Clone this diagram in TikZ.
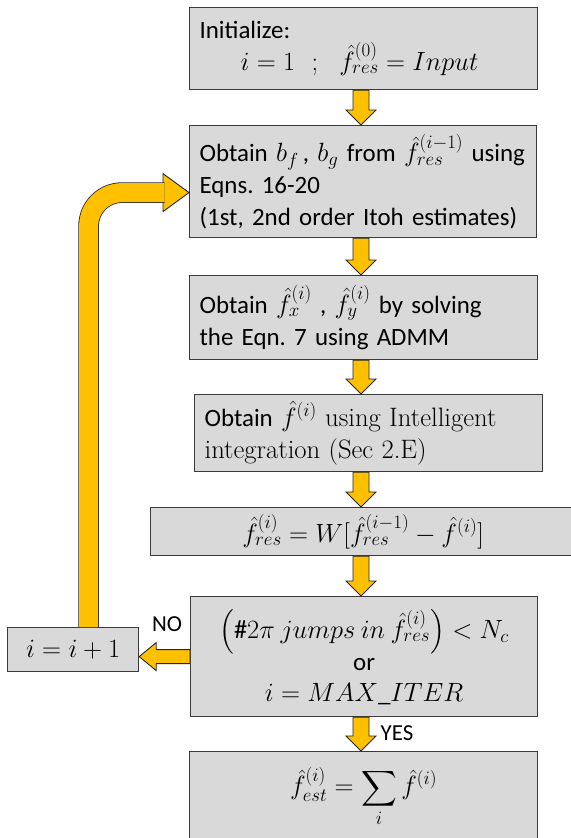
\RequirePackage{fix-cm}
\documentclass[tikz,border=0pt]{standalone}
\usepackage{amsmath}
\usepackage{fontspec}
\setmainfont{Carlito}
\newfontfamily\serifpart[Scale=1.07]{Latin Modern Roman}
\DeclareMathSizes{25}{26.5}{19}{14.5}
\usetikzlibrary{calc}

\definecolor{boxgray}{HTML}{D9D9D9}
\definecolor{arrowgold}{HTML}{FFC000}
\definecolor{edgegray}{HTML}{3A3A3A}

\tikzset{
	stepbox/.style={draw=edgegray, line width=1.2bp, fill=boxgray, inner xsep=10bp, inner ysep=0bp,
		font=\fontsize{25}{32}\selectfont\frenchspacing},
	leftbox/.style={stepbox, align=left, anchor=north west},
	midbox/.style={stepbox, align=center, anchor=north west},
	blockfill/.style={fill=arrowgold, draw=black!85, line width=0.9bp},
	loopshaft/.style={draw=arrowgold, line width=19bp, rounded corners=33.5bp,
		preaction={draw=black!85, line width=20.6bp}},
	tag/.style={font=\fontsize{23}{24}\selectfont, inner sep=0pt}
}

% straight block arrow downwards, between two boxes
\newcommand{\blockdown}[2]{%
	\draw[blockfill] ($(#1.south -| ax)+(-8,0)$) -- ($(#2.north -| ax)+(-8,-15)$) -- ++(-7,0)
		-- (#2.north -| ax) -- ++(15,-15) -- ++(-7,0) -- ($(#1.south -| ax)+(8,0)$) -- cycle;}

\begin{document}
\begin{tikzpicture}[x=1bp, y=-1bp]
	\useasboundingbox (0,0) rectangle (571,838);
	\coordinate (ax) at (361,0);

	% boxes
	\node[leftbox, text width=328bp, minimum height=82bp] (init) at (189,7)
		{Initialize:\\\hspace*{41bp}$i=1\ \ ;\ \ \hat f_{res}^{(0)}=Input$};
	\node[leftbox, text width=327bp, minimum height=112bp] (obtb) at (189,125)
		{\mbox{Obtain $b_f$\,, $b_g$ from $\hat f_{res}^{(i-1)}$ using}\\Eqns. 16-20\\(1st, 2nd order Itoh estimates)};
	\node[leftbox, text width=328bp, minimum height=84bp] (obtf) at (189,275)
		{Obtain $\hat f_x^{(i)}$ , $\hat f_y^{(i)}$ by solving\\the Eqn. 7 using ADMM};
	\node[leftbox, text width=328bp, minimum height=77bp] (intg) at (194,394)
		{Obtain $\hat f^{(i)}$ {\serifpart using Intelligent}\\{\serifpart integration (Sec 2.E)}};
	\node[midbox, minimum width=425bp, minimum height=48bp] (res) at (150,507)
		{$\hat f_{res}^{(i)} = W[\hat f_{res}^{(i-1)} - \hat f^{(i)}]$};
	\node[midbox, minimum width=347bp, minimum height=120bp] (dec) at (190,596)
		{$\Big(\#2\pi\ jumps\ in\ \hat f_{res}^{(i)}\Big) < N_c$\\or\\$i = MAX\_ITER$};
	\node[midbox, minimum width=348bp, minimum height=91bp] (est) at (189,751)
		{$\displaystyle \hat f_{est}^{(i)} = \sum_i \hat f^{(i)}$};
	\node[midbox, minimum width=131bp, minimum height=44bp] (inc) at (7,627) {$i=i+1$};

	% arrows down the chain
	\blockdown{init}{obtb}
	\blockdown{obtb}{obtf}
	\blockdown{obtf}{intg}
	\blockdown{intg}{res}
	\blockdown{res}{dec}
	\blockdown{dec}{est}

	% NO branch
	\draw[blockfill] ($(dec.west)+(0,-7)$) -- ($(inc.east |- dec.west)+(17,-7)$) -- ++(0,-7)
		-- (inc.east |- dec.west) -- ++(17,14) -- ++(0,-7) -- ($(dec.west)+(0,7)$) -- cycle;

	% loop back
	\coordinate (back) at ($(obtb.west)+(0,11)$);
	\draw[blockfill] (back) -- ++(-26,-19) -- ++(0,38) -- cycle;
	\draw[loopshaft] ($(inc.north)+(15.5,0)$) |- ($(back)+(-24.5,0)$);

	\node[tag] (no) at (167,624) {NO};
	\node[tag] (yes) at (397,733) {YES};
\end{tikzpicture}
\end{document}
